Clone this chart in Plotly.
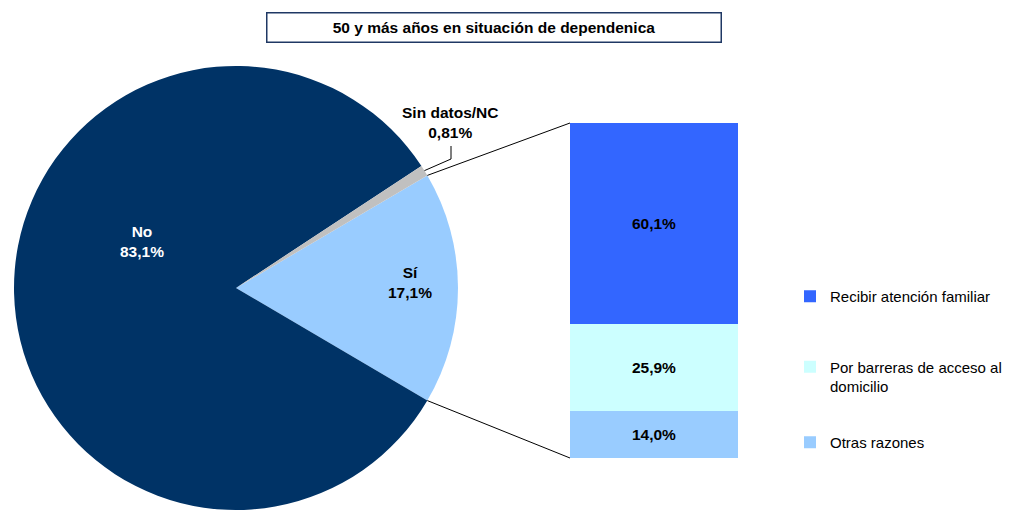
"""
Pie-of-bar: 50 y más años en situación de dependencia
"""
import math
import plotly.graph_objects as go

# ── data ────────────────────────────────────────────────
PIE_LABELS = ["Sí", "No", "Sin datos/NC"]
PIE_VALUES = [17.1, 83.1, 0.81]
PIE_TEXT = ["17,1%", "83,1%", "0,81%"]
PIE_COLORS = ["#99CCFF", "#003366", "#C0C0C0"]

BAR_LABELS = ["Otras razones", "Por barreras de acceso al<br>domicilio", "Recibir atención familiar"]
BAR_VALUES = [14.0, 25.9, 60.1]
BAR_COLORS = ["#99CCFF", "#CCFFFF", "#3366FF"]
BAR_RANK = [3, 2, 1]
BAR_LEGEND = ["legend2", "legend", "legend"]

TITLE = "50 y más años en situación de dependenica"

# page body has an 8px margin -> figure is drawn offset by 8px
OFF = 8
FW, FH = 1013 - OFF, 510 - OFF
FONT = "Liberation Sans, Arial, sans-serif"
FS = 15.5
LFS = 15

# ── geometry (page pixels) ──────────────────────────────
R = 222
CX, CY = 236, 288                 # pie centre
BAR_X0, BAR_X1 = 570, 738
BAR_TOP, BAR_BOT = 123, 458

def px(x):  # page pixel -> paper x
    return (x - OFF) / FW

def py(y):  # page pixel from top -> paper y
    return 1 - (y - OFF) / FH

total = sum(PIE_VALUES)
half = PIE_VALUES[0] / total * 180     # half angle of the "Sí" slice
rot = 90 - half

fig = go.Figure()

fig.add_trace(go.Pie(
    labels=PIE_LABELS, values=PIE_VALUES,
    sort=False, direction="clockwise", rotation=rot,
    marker=dict(colors=PIE_COLORS, line=dict(width=0)),
    textinfo="none", hoverinfo="label+percent",
    domain=dict(x=[px(CX - R), px(CX + R)], y=[max(0, py(CY + R)), py(CY - R)]),
    showlegend=False,
))

for lab, val, col, rk, lg in zip(BAR_LABELS, BAR_VALUES, BAR_COLORS, BAR_RANK, BAR_LEGEND):
    fig.add_trace(go.Bar(
        x=["Sí"], y=[val], name=lab, legendgroup=lab, legendrank=rk, legend=lg,
        marker=dict(color=col, line=dict(width=0)),
        texttemplate="<b>%{y:.1f}%</b>", textposition="inside",
        insidetextanchor="middle",
        textfont=dict(family=FONT, size=FS, color="black"),
        xaxis="x", yaxis="y",
    ))

# ── pie labels ──────────────────────────────────────────
pie_lab_pos = {"Sí": (410, 282, "black"), "No": (142, 241, "white"),
               "Sin datos/NC": (450, 122, "black")}
for lab, txt in zip(PIE_LABELS, PIE_TEXT):
    x, y, c = pie_lab_pos[lab]
    fig.add_annotation(
        x=px(x), y=py(y), xref="paper", yref="paper",
        xanchor="center", yanchor="middle",
        text=f"<b>{lab}<br>{txt}</b>", showarrow=False,
        font=dict(family=FONT, size=FS, color=c),
    )

# ── connector lines pie -> bar ──────────────────────────
a = math.radians(half)
ex = CX + R * math.cos(a)
ey_top = CY - R * math.sin(a)
ey_bot = CY + R * math.sin(a)
for y0, y1 in [(ey_top, BAR_TOP), (ey_bot, BAR_BOT)]:
    fig.add_shape(type="line", xref="paper", yref="paper",
                  x0=px(ex), y0=py(y0), x1=px(BAR_X0), y1=py(y1),
                  line=dict(color="black", width=1))

# leader for "Sin datos/NC"
g = math.radians(half + PIE_VALUES[2] / total * 180)
gx = CX + R * math.cos(g)
gy = CY - R * math.sin(g)
fig.add_shape(type="path", xref="paper", yref="paper",
              path=f"M {px(gx)} {py(gy)} L {px(451)} {py(159)} L {px(451)} {py(146)}",
              line=dict(color="black", width=1))

# ── title box ───────────────────────────────────────────
fig.add_annotation(
    x=px(493.5), y=py(27.5), xref="paper", yref="paper",
    xanchor="center", yanchor="middle",
    text=f"<b>{TITLE}</b>", showarrow=False,
    font=dict(family=FONT, size=FS, color="black"),
    width=449, height=24, borderpad=2,
    bordercolor="#1F3864", borderwidth=1.5, bgcolor="white",
)

leg_common = dict(xanchor="left", yanchor="top", traceorder="grouped",
                  font=dict(family=FONT, size=LFS, color="black"),
                  itemwidth=30, bgcolor="rgba(0,0,0,0)", valign="top")

fig.update_layout(
    width=FW, height=FH,
    margin=dict(l=0, r=0, t=0, b=0, autoexpand=False),
    paper_bgcolor="white", plot_bgcolor="white",
    separators=",.",
    barmode="stack", bargap=0,
    xaxis=dict(domain=[px(BAR_X0), px(BAR_X1)], range=[-0.5, 0.5],
               visible=False, fixedrange=True),
    yaxis=dict(domain=[py(BAR_BOT), py(BAR_TOP)], range=[0, 100],
               visible=False, fixedrange=True),
    legend=dict(x=px(790), y=py(280), tracegroupgap=48, **leg_common),
    legend2=dict(x=px(790), y=py(426), **leg_common),
    font=dict(family=FONT),
)

fig.write_html("out.html")
